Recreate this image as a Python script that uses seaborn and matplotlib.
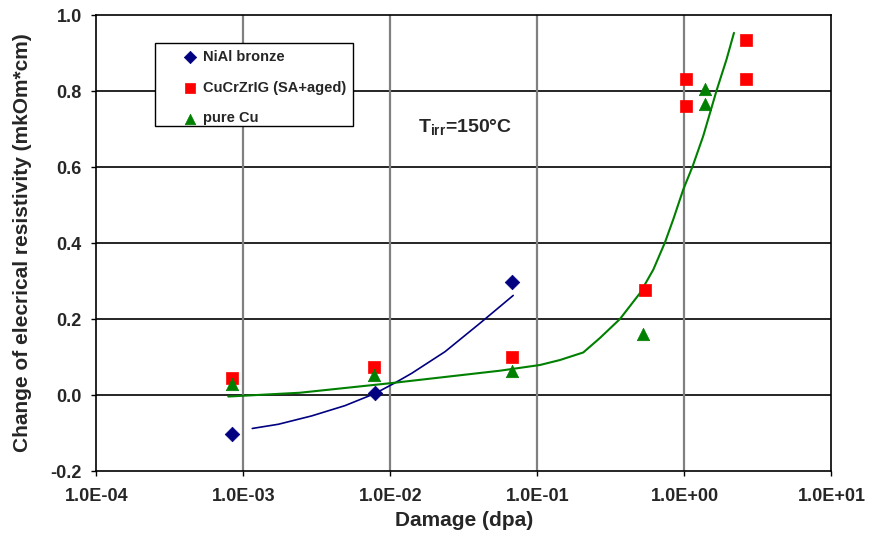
import matplotlib
matplotlib.use("Agg")
import matplotlib.pyplot as plt
import seaborn as sns
import pandas as pd
from matplotlib.patches import Rectangle
from matplotlib.ticker import FixedLocator, FuncFormatter, NullLocator

# ---- data ----
nial_dpa = [8.36e-4, 7.85e-3, 0.0671]
nial_rho = [-0.102, 0.006, 0.298]

cucr_dpa = [8.36e-4, 7.73e-3, 0.0671, 0.543, 1.02, 1.02, 2.64, 2.64]
cucr_rho = [0.045, 0.074, 0.100, 0.277, 0.761, 0.832, 0.832, 0.934]

cu_dpa = [8.36e-4, 7.73e-3, 0.0671, 0.524, 1.39, 1.39]
cu_rho = [0.030, 0.053, 0.063, 0.160, 0.766, 0.805]

# trend curves
blue_curve_dpa = [1.148e-3, 1.726e-3, 2.91e-3, 4.90e-3, 7.85e-3, 1.074e-2, 1.393e-2,
                  2.35e-2, 3.95e-2, 4.40e-2, 6.84e-2]
blue_curve_rho = [-0.088, -0.077, -0.055, -0.028, 0.004, 0.032, 0.057,
                  0.114, 0.185, 0.200, 0.262]

green_curve_dpa = [7.88e-4, 2.42e-3, 9.93e-3, 5.56e-2, 0.104, 0.142, 0.205, 0.266,
                   0.364, 0.498, 0.614, 0.736, 0.839, 0.982, 1.137, 1.343,
                   1.656, 1.936, 2.172]
green_curve_rho = [-0.004, 0.006, 0.031, 0.064, 0.079, 0.092, 0.112, 0.150,
                   0.200, 0.268, 0.330, 0.401, 0.462, 0.541, 0.602, 0.682,
                   0.802, 0.884, 0.953]

x_ticks = [1e-4, 1e-3, 1e-2, 1e-1, 1e0, 1e1]
x_tick_labels = ["1.0E-04", "1.0E-03", "1.0E-02", "1.0E-01", "1.0E+00", "1.0E+01"]
y_ticks = [-0.2, 0.0, 0.2, 0.4, 0.6, 0.8, 1.0]

sns.set_theme(style="white")
plt.rcParams['font.family'] = ['Liberation Sans', 'DejaVu Sans']
plt.rcParams['font.weight'] = 'bold'
plt.rcParams['mathtext.fontset'] = 'custom'
plt.rcParams['mathtext.bf'] = 'Liberation Sans:bold'
plt.rcParams['mathtext.rm'] = 'Liberation Sans:bold'
plt.rcParams['mathtext.default'] = 'bf'

fig = plt.figure(figsize=(8.73, 5.38), dpi=100)
ax = fig.add_axes([0.1105, 0.1245, 0.8419, 0.8476])
ax.set_xscale("log")

NAVY = "#000080"
RED = "#FF0000"
GREEN = "#008000"

sns.lineplot(x=blue_curve_dpa, y=blue_curve_rho, sort=False, estimator=None,
             color=NAVY, lw=1.2, ax=ax, zorder=3)
sns.lineplot(x=green_curve_dpa, y=green_curve_rho, sort=False, estimator=None,
             color=GREEN, lw=1.5, ax=ax, zorder=3)

sns.scatterplot(x=nial_dpa, y=nial_rho, marker="D", s=55, color=NAVY,
                edgecolor=NAVY, linewidth=0.5, ax=ax, zorder=4, label="NiAl bronze")
sns.scatterplot(x=cucr_dpa, y=cucr_rho, marker="s", s=80, color=RED,
                edgecolor=RED, linewidth=0.5, ax=ax, zorder=4, label="CuCrZrIG (SA+aged)")
sns.scatterplot(x=cu_dpa, y=cu_rho, marker="^", s=80, color=GREEN,
                edgecolor=GREEN, linewidth=0.5, ax=ax, zorder=4, label="pure Cu")

ax.set_xlim(1e-4, 1e1)
ax.set_ylim(-0.2, 1.0)
ax.xaxis.set_major_locator(FixedLocator(x_ticks))
ax.xaxis.set_minor_locator(NullLocator())
ax.set_xticklabels(x_tick_labels)
ax.yaxis.set_major_locator(FixedLocator(y_ticks))
ax.yaxis.set_major_formatter(FuncFormatter(lambda v, p: f"{v:.1f}"))

ax.grid(False)
for yv in y_ticks[1:-1]:
    ax.axhline(yv, color="black", lw=1.2, zorder=1)
for xv in x_ticks[1:-1]:
    ax.axvline(xv, color="#808080", lw=1.6, zorder=1)

for sp in ax.spines.values():
    sp.set_color("black")
    sp.set_linewidth(1.2)
    sp.set_visible(True)

ax.tick_params(axis="both", which="major", labelsize=13, direction="out",
               length=3.5, width=1.0, color="black", bottom=True, left=True)
ax.tick_params(axis="y", pad=7)
ax.tick_params(axis="x", pad=9)
for lab in ax.get_xticklabels() + ax.get_yticklabels():
    lab.set_fontweight("bold")

ax.set_xlabel("Damage (dpa)", fontsize=15, fontweight="bold", labelpad=4)
ax.set_ylabel("Change of elecrical resistivity (mkOm*cm)", fontsize=15,
              fontweight="bold", labelpad=13)

# legend box
ax.add_patch(Rectangle((0.0796, 0.757), 0.2694, 0.182, transform=ax.transAxes,
                       facecolor="white", edgecolor="black", lw=1.0, zorder=5))
leg = ax.legend(loc="upper left", bbox_to_anchor=(0.119, 0.9236), frameon=False,
                fontsize=10.5, handlelength=0.9, handletextpad=0.4,
                labelspacing=1.15, borderpad=0, borderaxespad=0,
                markerscale=0.85)
leg.set_zorder(6)
for t in leg.get_texts():
    t.set_fontweight("bold")

ax.text(0.01538, 0.706, r"T$_{\mathbf{irr}}$=150°C", fontsize=14, fontweight="bold",
        ha="left", va="center", zorder=6)

fig.savefig("out.png", dpi=100)
